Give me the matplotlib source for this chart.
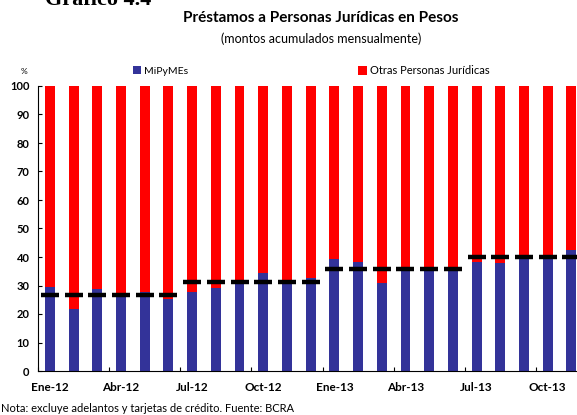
import matplotlib.pyplot as plt
import numpy as np
from matplotlib.patches import Patch

plt.rcParams['font.family'] = ['Lato', 'DejaVu Sans']

meses = ['Ene-12', 'Feb-12', 'Mar-12', 'Abr-12', 'May-12', 'Jun-12',
         'Jul-12', 'Ago-12', 'Sep-12', 'Oct-12', 'Nov-12', 'Dic-12',
         'Ene-13', 'Feb-13', 'Mar-13', 'Abr-13', 'May-13', 'Jun-13',
         'Jul-13', 'Ago-13', 'Sep-13', 'Oct-13', 'Nov-13']
mipymes = [29.4, 21.8, 28.8, 26.8, 27.6, 25.2,
           27.8, 29.2, 31.0, 34.4, 31.3, 32.7,
           39.3, 38.4, 31.0, 35.7, 35.8, 35.9,
           38.4, 37.8, 39.9, 39.9, 42.5]
promedio = [26.8] * 6 + [31.2] * 6 + [35.9] * 6 + [40.0] * 5
etiquetas = ['Ene-12', 'Abr-12', 'Jul-12', 'Oct-12', 'Ene-13', 'Abr-13', 'Jul-13', 'Oct-13']

azul = '#333399'
rojo = '#ff0000'

fig = plt.figure(figsize=(5.77, 4.15), dpi=100)
W, H = 577, 415
# axes run past the right edge of the picture, like the cropped original
ax = fig.add_axes([38 / W, 44 / H, 569 / W, 285 / H])

x = np.arange(len(meses))
otras = 100 - np.array(mipymes)
ax.bar(x, mipymes, width=0.42, color=azul, zorder=2)
ax.bar(x, otras, width=0.42, bottom=mipymes, color=rojo, zorder=2)
ax.plot(x, promedio, ls='none', marker='_', ms=12.5, mew=3.2, color='black', zorder=3)

ax.set_xlim(-0.5, 23.5)
ax.set_ylim(0, 100)
ax.set_yticks(np.arange(0, 101, 10))
ax.set_yticklabels([str(v) for v in range(0, 101, 10)], fontweight='bold', fontsize=8)
ax.tick_params(axis='y', direction='in', length=3, width=0.8, pad=6)

ax.set_xticks(np.arange(-0.5, 24, 3))
ax.set_xticklabels([])
ax.tick_params(axis='x', direction='in', length=3, width=0.8)
for lab in etiquetas:
    i = meses.index(lab)
    ax.text(i, -3.8, lab, ha='center', va='top', fontsize=8.5, fontweight='bold')

for s in ['top', 'right']:
    ax.spines[s].set_visible(False)
ax.spines['left'].set_linewidth(0.8)
ax.spines['bottom'].set_linewidth(0.8)

fig.text(24 / W, 1 - 71 / H, '%', ha='center', va='center', fontsize=6)
fig.text(45 / W, 1 - 5 / H, 'Gráfico 4.4', ha='left', va='baseline',
         fontsize=16, fontweight='bold', family='Liberation Serif')
fig.text(321 / W, 1 - 18 / H, 'Préstamos a Personas Jurídicas en Pesos',
         ha='center', va='center', fontsize=11, fontweight='bold')
fig.text(321 / W, 1 - 39 / H, '(montos acumulados mensualmente)',
         ha='center', va='center', fontsize=9)
fig.text(1 / W, 1 - 408 / H, 'Nota: excluye adelantos y tarjetas de crédito. Fuente: BCRA',
         ha='left', va='center', fontsize=8)

h1 = Patch(facecolor=azul)
h2 = Patch(facecolor=rojo)
fig.legend([h1], ['MiPyMEs'], loc='center left', bbox_to_anchor=(133 / W, 1 - 71 / H),
           frameon=False, fontsize=7.5, handlelength=0.8, handleheight=0.8, handletextpad=0.3,
           borderpad=0, borderaxespad=0)
fig.legend([h2], ['Otras Personas Jurídicas'], loc='center left',
           bbox_to_anchor=(358 / W, 1 - 71 / H),
           frameon=False, fontsize=8, handlelength=0.8, handleheight=0.8, handletextpad=0.3,
           borderpad=0, borderaxespad=0)

plt.savefig('out.png', dpi=100)
